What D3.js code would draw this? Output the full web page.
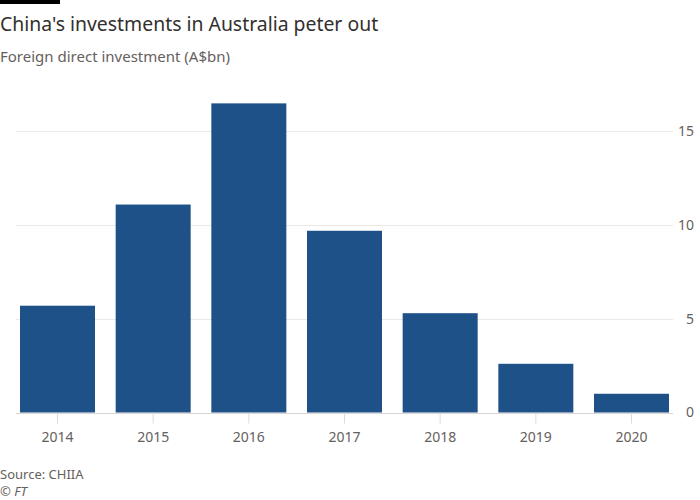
<!DOCTYPE html>
<html>
<head>
<meta charset="utf-8">
<script src="https://cdn.jsdelivr.net/npm/d3@7"></script>
<style>
  body { margin: 0; background: #fff; }
  text { font-family: "Noto Sans", sans-serif; }
</style>
</head>
<body>
<div id="chart"></div>
<script>
const years = ["2014", "2015", "2016", "2017", "2018", "2019", "2020"];
const investment = [5.7, 11.1, 16.5, 9.7, 5.3, 2.6, 1.0];
const yTicks = [0, 5, 10, 15];

const width = 700, height = 500;
const margins = { top: 94, right: 31, bottom: 87.5, left: 20 };

const svg = d3.select("#chart")
  .append("svg")
  .attr("width", width)
  .attr("height", height);

// header block
svg.append("rect")
  .attr("x", 0).attr("y", 0)
  .attr("width", 60).attr("height", 4)
  .attr("fill", "#000");

svg.append("text")
  .attr("x", 0).attr("y", 31)
  .attr("font-size", 19.4)
  .attr("fill", "#33302e")
  .text("China's investments in Australia peter out");

svg.append("text")
  .attr("x", 0).attr("y", 62)
  .attr("font-size", 15)
  .attr("fill", "#66605c")
  .text("Foreign direct investment (A$bn)");

// scales
const x = d3.scaleBand()
  .domain(years)
  .range([margins.left, width - margins.right])
  .paddingInner(0.216)
  .paddingOuter(0);

const y = d3.scaleLinear()
  .domain([0, 17])
  .range([height - margins.bottom, margins.top]);

// gridlines
svg.append("g")
  .selectAll("line")
  .data(yTicks.filter(d => d > 0))
  .join("line")
  .attr("x1", 16)
  .attr("x2", 673)
  .attr("y1", d => Math.round(y(d)) + 0.5)
  .attr("y2", d => Math.round(y(d)) + 0.5)
  .attr("stroke", "#ebe8e6")
  .attr("stroke-width", 1);

// bars
svg.append("g")
  .selectAll("rect")
  .data(investment)
  .join("rect")
  .attr("x", (d, i) => x(years[i]))
  .attr("width", x.bandwidth())
  .attr("y", d => y(d))
  .attr("height", d => y(0) - y(d))
  .attr("fill", "#1f5189");

// baseline
svg.append("line")
  .attr("x1", 16).attr("x2", 673)
  .attr("y1", Math.round(y(0)) + 0.5)
  .attr("y2", Math.round(y(0)) + 0.5)
  .attr("stroke", "#d9d4cf");

// x axis
const xAxis = svg.append("g")
  .attr("transform", `translate(0, ${Math.round(y(0)) + 0.5})`)
  .call(d3.axisBottom(x).tickSize(10).tickPadding(9));
xAxis.select(".domain").remove();
xAxis.selectAll(".tick line").attr("stroke", "#dedad6");
xAxis.selectAll(".tick text")
  .attr("font-size", 14)
  .attr("fill", "#66605c")
  .attr("font-family", "Noto Sans, sans-serif");

// y axis labels on the right
const yAxis = svg.append("g")
  .attr("transform", `translate(${width - 6}, 0)`)
  .call(d3.axisRight(y).tickValues(yTicks).tickSize(0).tickPadding(0));
yAxis.select(".domain").remove();
yAxis.selectAll(".tick text")
  .attr("text-anchor", "end")
  .attr("font-size", 14)
  .attr("fill", "#66605c")
  .attr("font-family", "Noto Sans, sans-serif");

// footer
svg.append("text")
  .attr("x", 0).attr("y", 479)
  .attr("font-size", 13)
  .attr("fill", "#66605c")
  .text("Source: CHIIA");

svg.append("text")
  .attr("x", 0).attr("y", 496)
  .attr("font-size", 13)
  .attr("font-style", "italic")
  .attr("fill", "#66605c")
  .text("© FT");
</script>
</body>
</html>
